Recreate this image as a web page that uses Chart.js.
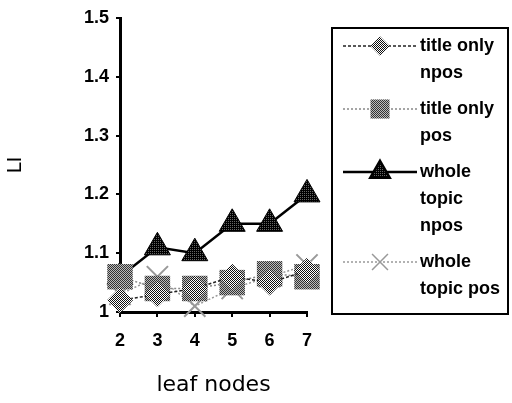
<!DOCTYPE html>
<html><head><meta charset="utf-8">
<script src="https://cdn.jsdelivr.net/npm/chart.js@4/dist/chart.umd.min.js"></script>
<style>html,body{margin:0;padding:0;background:#fff}#wrap{width:512px;height:403px;position:relative}</style>
</head><body><div id="wrap"><canvas id="c" width="512" height="403"></canvas></div>
<script>
const categories = ['2', '3', '4', '5', '6', '7'];
const seriesNames = [['title only', 'npos'], ['title only', 'pos'], ['whole', 'topic', 'npos'], ['whole', 'topic pos']];
const titleOnlyNpos = [1.02, 1.03, 1.04, 1.06, 1.05, 1.07];
const titleOnlyPos = [1.06, 1.04, 1.04, 1.05, 1.065, 1.06];
const wholeTopicNpos = [1.06, 1.11, 1.10, 1.15, 1.15, 1.20];
const wholeTopicPos = [1.03, 1.06, 1.01, 1.04, 1.06, 1.08];
const yMin = 1, yMax = 1.5, yStep = 0.1;
const xTitle = 'leaf nodes';
const yTitle = 'LI';

const canvas = document.getElementById('c');
const mainCtx = canvas.getContext('2d');
function makePattern(fg, bg, dense) {
  const p = document.createElement('canvas');
  p.width = 2; p.height = 2;
  const x = p.getContext('2d');
  x.fillStyle = bg; x.fillRect(0, 0, 2, 2);
  x.fillStyle = fg; x.fillRect(0, 0, 1, 1); x.fillRect(1, 1, 1, 1);
  if (dense) x.fillRect(1, 0, 1, 1);
  return mainCtx.createPattern(p, 'repeat');
}
const patDiamond = makePattern('#111', '#fff', false);
const patSquare = makePattern('#333', '#bbb', false);
const patTri = makePattern('#000', '#666', true);

const styles = [
  {borderColor: '#222', borderWidth: 1.5, borderDash: [3, 2], pointStyle: 'rectRot', pointRadius: 13, bg: patDiamond, pbc: '#222', pbw: 0},
  {borderColor: '#888', borderWidth: 1.5, borderDash: [2, 2], pointStyle: 'rect', pointRadius: 18, bg: patSquare, pbc: '#555', pbw: 0},
  {borderColor: '#000', borderWidth: 2.5, borderDash: [], pointStyle: 'triangle', pointRadius: 15, bg: patTri, pbc: '#000', pbw: 1},
  {borderColor: '#999', borderWidth: 1.5, borderDash: [2, 2], pointStyle: 'crossRot', pointRadius: 15, bg: '#999', pbc: '#999', pbw: 2}
];
const seriesData = [titleOnlyNpos, titleOnlyPos, wholeTopicNpos, wholeTopicPos];

const datasets = seriesData.map((d, i) => ({
  label: seriesNames[i].join(' '),
  data: d,
  borderColor: styles[i].borderColor,
  borderWidth: styles[i].borderWidth,
  borderDash: styles[i].borderDash,
  pointStyle: styles[i].pointStyle,
  pointRadius: styles[i].pointRadius,
  pointHoverRadius: styles[i].pointRadius,
  pointBackgroundColor: styles[i].bg,
  pointBorderColor: styles[i].pbc,
  pointBorderWidth: styles[i].pbw,
  tension: 0,
  fill: false,
  clip: false
}));

const boxLegend = {
  id: 'boxLegend',
  afterDraw(chart) {
    const ctx = chart.ctx;
    const left = chart.chartArea.right + 25;
    const right = chart.width - 4;
    ctx.save();
    ctx.lineWidth = 2;
    ctx.strokeStyle = '#000';
    ctx.setLineDash([]);
    ctx.strokeRect(left, 28, right - left, 286);
    let y = 46;
    const lh = 27;
    chart.data.datasets.forEach((ds, i) => {
      const s = styles[i];
      const x0 = left + 11, x1 = left + 85, xm = left + 48;
      ctx.save();
      ctx.strokeStyle = s.borderColor;
      ctx.lineWidth = s.borderWidth;
      ctx.setLineDash(s.borderDash);
      ctx.beginPath(); ctx.moveTo(x0, y); ctx.lineTo(x1, y); ctx.stroke();
      ctx.setLineDash([]);
      ctx.fillStyle = s.bg;
      ctx.strokeStyle = s.pbc;
      Chart.helpers.drawPoint(ctx, {pointStyle: s.pointStyle, radius: s.pointRadius * 0.75, rotation: 0, borderWidth: s.pbw}, xm, y);
      ctx.restore();
      ctx.fillStyle = '#000';
      ctx.font = 'bold 18px "Liberation Sans", Arial, sans-serif';
      ctx.textBaseline = 'middle';
      ctx.textAlign = 'left';
      seriesNames[i].forEach((t, k) => ctx.fillText(t, left + 88, y + k * lh));
      y += seriesNames[i].length * lh + 9;
    });
    ctx.restore();
  }
};

new Chart(canvas, {
  type: 'line',
  data: {labels: categories, datasets},
  options: {
    responsive: false,
    animation: false,
    devicePixelRatio: 1,
    layout: {padding: {top: 15, right: 205, left: 0, bottom: 0}},
    plugins: {legend: {display: false}, tooltip: {enabled: false}},
    scales: {
      x: {
        type: 'category',
        offset: false,
        afterFit(s) { s.height = 91; },
        grid: {display: true, drawOnChartArea: false, drawTicks: true, tickLength: 5, color: '#000', lineWidth: 2},
        border: {display: true, color: '#000', width: 3},
        ticks: {color: '#000', padding: 13, font: {family: '"Liberation Sans", Arial', size: 18, weight: 'bold'}},
        title: {display: true, text: xTitle, color: '#000', padding: {top: 0, bottom: 5}, font: {family: '"DejaVu Sans", sans-serif', size: 22}}
      },
      y: {
        min: yMin, max: yMax,
        afterFit(s) { s.width = 120; },
        grid: {display: true, drawOnChartArea: false, drawTicks: true, tickLength: 4, color: '#000', lineWidth: 2},
        border: {display: true, color: '#000', width: 3},
        ticks: {stepSize: yStep, color: '#000', padding: 7, font: {family: '"Liberation Sans", Arial', size: 18, weight: 'bold'},
          callback: v => String(Number(Number(v).toFixed(1)))},
        title: {display: true, text: yTitle, color: '#000', padding: {top: 4, bottom: 0}, font: {family: '"DejaVu Sans", sans-serif', size: 20}}
      }
    }
  },
  plugins: [boxLegend]
});
</script>
</body></html>
